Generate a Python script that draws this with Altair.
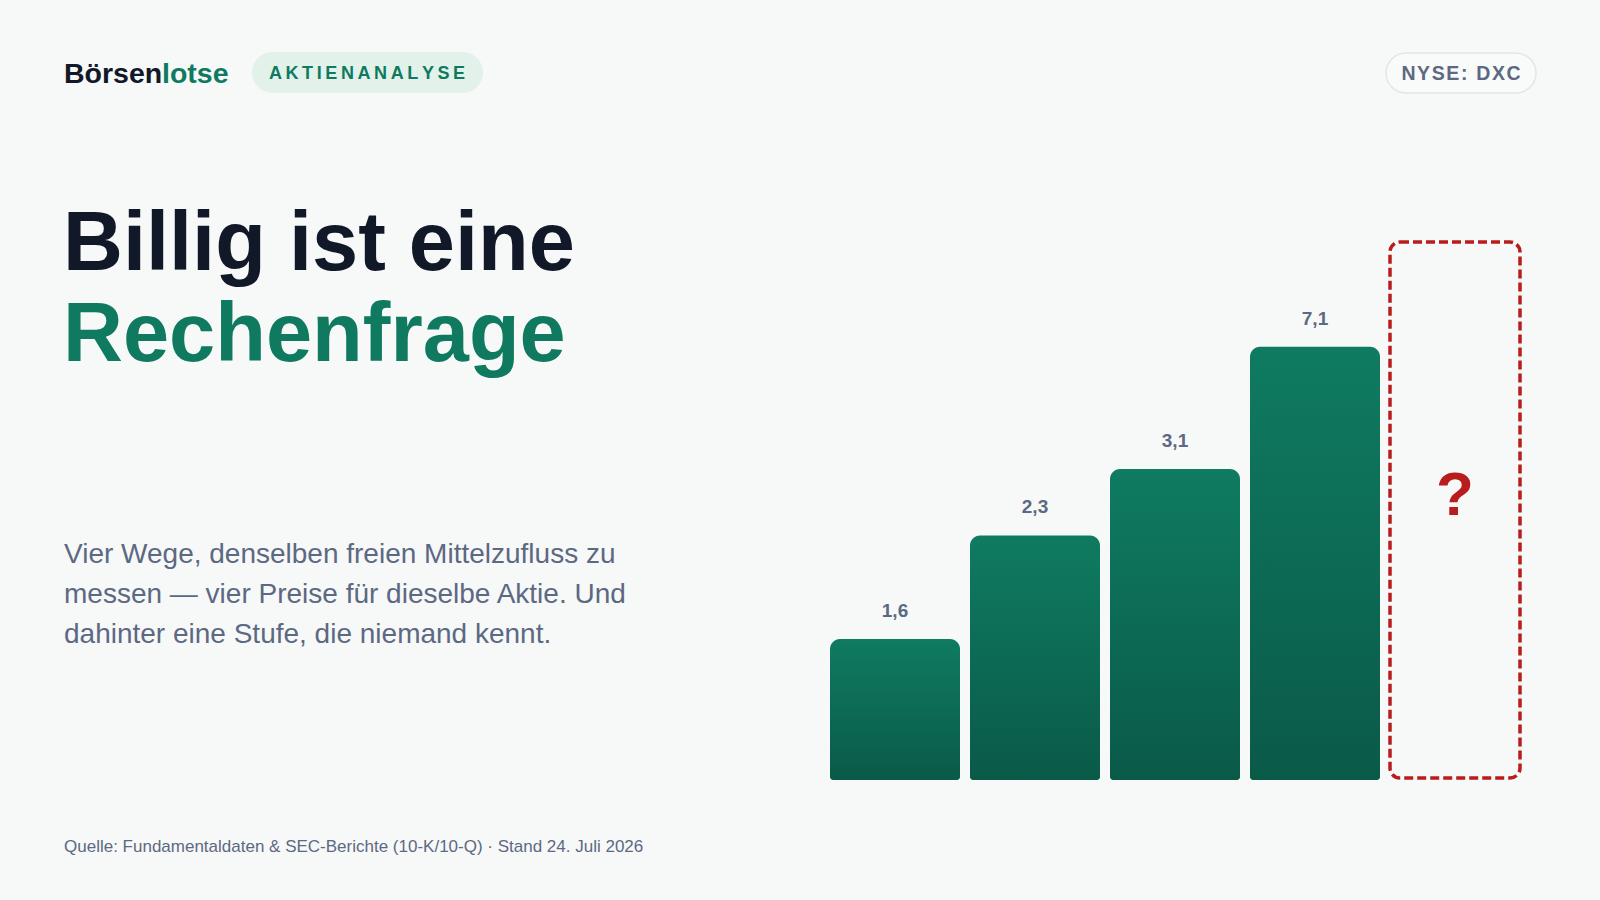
import altair as alt
import pandas as pd

# Four ways of measuring the same free cash flow, then the unknown next step
WEGE = ["Weg 1", "Weg 2", "Weg 3", "Weg 4", "?"]
WERTE = [1.6, 2.3, 3.1, 7.1, None]

MARKE = ["Börsen", "lotse"]
RUBRIK = "AKTIENANALYSE"
TICKER = "NYSE: DXC"
TITEL = ["Billig ist eine", "Rechenfrage"]
ABSATZ = [
    "Vier Wege, denselben freien Mittelzufluss zu",
    "messen — vier Preise für dieselbe Aktie. Und",
    "dahinter eine Stufe, die niemand kennt.",
]
QUELLE = "Quelle: Fundamentaldaten & SEC-Berichte (10-K/10-Q) · Stand 24. Juli 2026"

FONT = "Liberation Sans, Helvetica, Arial, sans-serif"
DUNKEL = "#111827"
GRUEN = "#0f7a5f"
SCHIEFER = "#5d6883"
ROT = "#b91c1c"
HINTERGRUND = "#f7f9f8"

df = pd.DataFrame({"weg": WEGE, "wert": WERTE})

# Band scale for the five steps; a compressing power scale for the bar heights
x_scale = alt.Scale(domain=WEGE, range=[830, 1520], paddingInner=10 / 140, paddingOuter=0)
y_scale = alt.Scale(type="pow", exponent=-0.75, domain=[1.1, 42], range=[780, 242],
                    zero=False, nice=False)
X = alt.X("weg:N", scale=x_scale, axis=None)
Y = alt.Y("wert:Q", scale=y_scale, axis=None, stack=None)

verlauf = alt.LinearGradient(
    gradient="linear",
    stops=[alt.GradientStop(color="#0f7b61", offset=0),
           alt.GradientStop(color="#0a5a48", offset=1)],
    x1=0, x2=0, y1=0, y2=1,
)

base = alt.Chart(df)
bekannt = base.transform_filter("isValid(datum.wert)")
unbekannt = base.transform_filter("datum.weg === '?'")

balken = bekannt.mark_bar(
    fill=verlauf,
    cornerRadiusTopLeft=10, cornerRadiusTopRight=10,
    cornerRadiusBottomLeft=3, cornerRadiusBottomRight=3,
).encode(x=X, y=Y, y2=alt.value(780))

werte = bekannt.transform_calculate(
    label="replace(format(datum.wert, '.1f'), '.', ',')"
).mark_text(
    baseline="alphabetic", dy=-22, fontSize=19, fontWeight="bold",
    color=SCHIEFER, font=FONT,
).encode(x=X, y=Y, text="label:N")

rahmen = unbekannt.mark_bar(
    fill="transparent", stroke=ROT, strokeWidth=3.5, strokeDash=[9, 4], cornerRadius=10,
).encode(x=X, y=alt.value(242), y2=alt.value(778))

frage = unbekannt.mark_text(
    baseline="alphabetic", fontSize=62, fontWeight="bold", color=ROT, font=FONT,
).encode(x=X, y=alt.value(515), text="weg:N")


def text(inhalt, x, y, size, color, weight="normal", align="left"):
    return alt.Chart(alt.Data(values=[{"t": inhalt}])).mark_text(
        align=align, baseline="alphabetic", fontSize=size, fontWeight=weight,
        color=color, font=FONT,
    ).encode(x=alt.value(x), y=alt.value(y), text="t:N")


def pille(x1, x2, y1, y2, fill, stroke=None):
    opts = dict(cornerRadius=(y2 - y1) / 2, fill=fill)
    if stroke:
        opts.update(stroke=stroke, strokeWidth=1.5)
    return alt.Chart(alt.Data(values=[{}])).mark_rect(**opts).encode(
        x=alt.value(x1), x2=alt.value(x2), y=alt.value(y1), y2=alt.value(y2)
    )


kopf = [
    pille(252, 483, 52, 93, "#e3f1eb"),
    pille(1386, 1536, 53, 93, "#f9fafa", stroke="#e2e6ea"),
    text(MARKE[0], 64, 83, 28.5, DUNKEL, "bold"),
    text(MARKE[1], 162, 83, 28.5, GRUEN, "bold"),
    text("\u2009".join(RUBRIK), 367, 79, 18, GRUEN, "bold", align="center"),
    text("\u200a".join(TICKER), 1461, 80, 19.5, SCHIEFER, "bold", align="center"),
]

titel = [
    text(TITEL[0], 63, 270, 83, DUNKEL, "bold"),
    text(TITEL[1], 63, 361, 83, GRUEN, "bold"),
]

absatz = [text(zeile, 64, 563 + 40 * i, 28, SCHIEFER) for i, zeile in enumerate(ABSATZ)]
fuss = [text(QUELLE, 64, 852, 17, SCHIEFER)]

chart = alt.layer(
    *kopf, *titel, *absatz, *fuss, balken, werte, rahmen, frage
).properties(
    width=1600, height=900,
    autosize=alt.AutoSizeParams(type="none"),
    padding=0,
).configure(background=HINTERGRUND).configure_view(stroke=None)

chart.save("out.html", embed_options={"renderer": "svg", "actions": False})
